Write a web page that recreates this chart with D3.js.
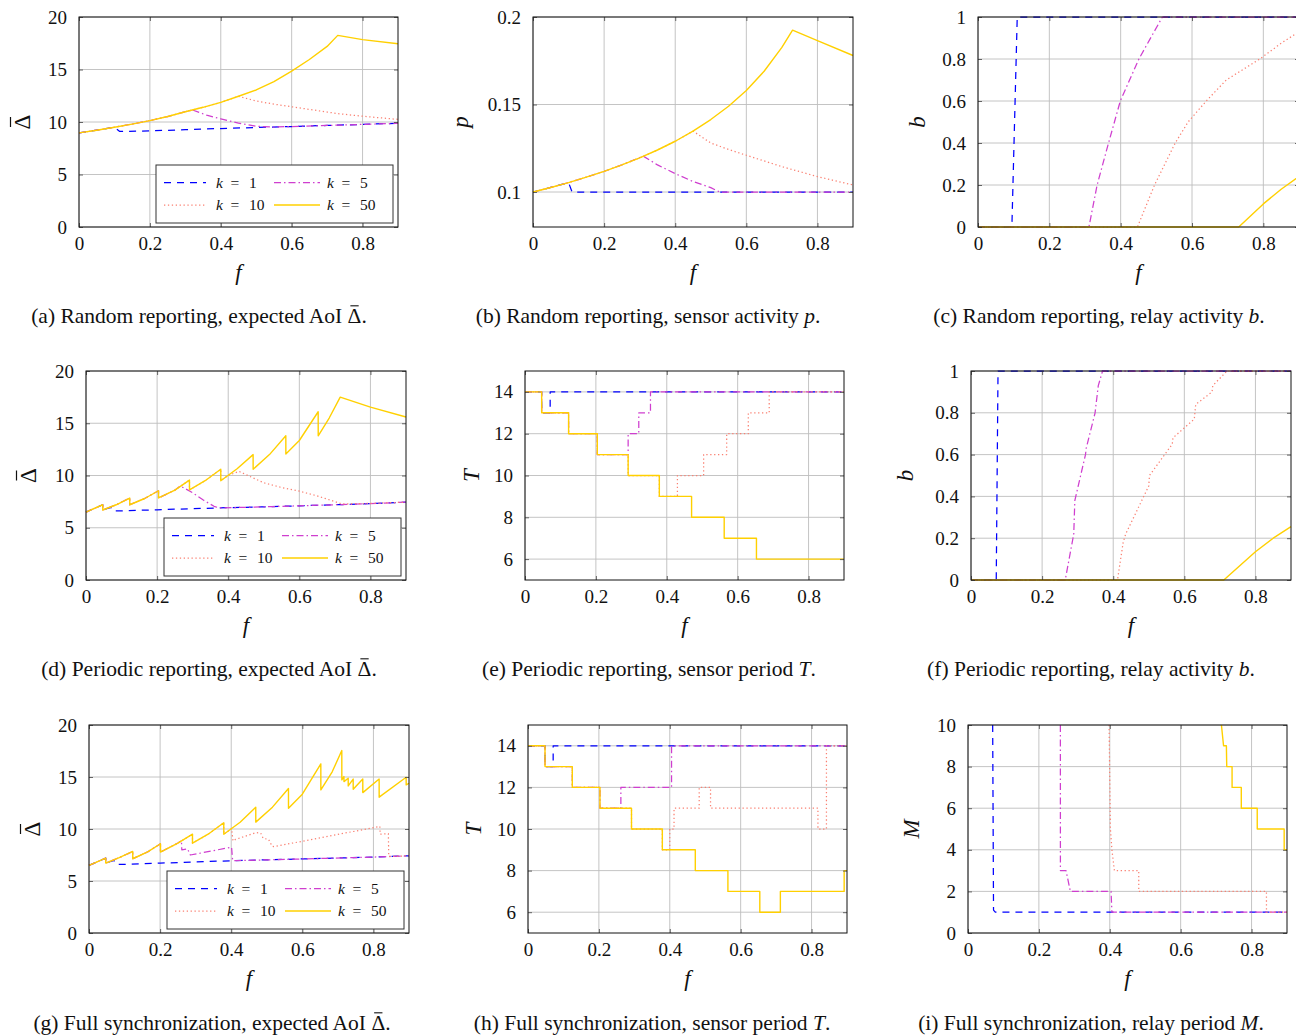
<!DOCTYPE html>
<html><head><meta charset="utf-8">
<script src="https://cdn.jsdelivr.net/npm/d3@7"></script>
<style>body{margin:0;background:#fff}svg{display:block}</style>
</head><body>
<svg id="c" width="1296" height="1036"></svg>
<script>
// ---------- tick values / labels ----------
const xTickVals = [0, 0.2, 0.4, 0.6, 0.8];
const xTickLabels = ["0", "0.2", "0.4", "0.6", "0.8"];
const yTicksAoI = [0, 5, 10, 15, 20];
const yTicksP = [0.1, 0.15, 0.2];
const yTicksB = [0, 0.2, 0.4, 0.6, 0.8, 1];
const yTicksT = [6, 8, 10, 12, 14];
const yTicksM = [0, 2, 4, 6, 8, 10];
const kLabels = ["1", "5", "10", "50"];

// ---------- (a) random reporting, AoI ----------
const fA1 = [0,0.05,0.1,0.115,0.2,0.3,0.4,0.5,0.6,0.7,0.8,0.9];
const vA1 = [8.96,9.22,9.5,9.1,9.15,9.27,9.38,9.48,9.57,9.67,9.77,9.88];
const fA5 = [0,0.05,0.1,0.15,0.2,0.25,0.3,0.32,0.36,0.4,0.45,0.5,0.55,0.6,0.7,0.8,0.9];
const vA5 = [8.96,9.22,9.5,9.8,10.13,10.52,10.98,11.15,10.65,10.3,9.9,9.6,9.52,9.57,9.67,9.77,9.88];
const fA10 = [0,0.05,0.1,0.15,0.2,0.25,0.3,0.35,0.4,0.45,0.5,0.55,0.6,0.65,0.7,0.73,0.8,0.9];
const vA10 = [8.96,9.22,9.5,9.8,10.13,10.52,10.98,11.4,11.87,12.45,12.0,11.7,11.45,11.2,10.95,10.8,10.55,10.25];
const fA50 = [0,0.05,0.1,0.15,0.2,0.25,0.3,0.35,0.4,0.45,0.5,0.55,0.6,0.65,0.7,0.73,0.8,0.9];
const vA50 = [8.96,9.22,9.5,9.8,10.13,10.52,10.98,11.4,11.87,12.45,13.05,13.85,14.85,15.95,17.2,18.25,17.85,17.45];

// ---------- (b) random reporting, p ----------
const fB1 = [0,0.05,0.1,0.11,0.9];
const vB1 = [0.1,0.1026,0.1054,0.1,0.1];
const fB5 = [0,0.05,0.1,0.15,0.2,0.25,0.31,0.35,0.4,0.45,0.5,0.525,0.9];
const vB5 = [0.1,0.1026,0.1054,0.1085,0.1118,0.1155,0.1205,0.1155,0.1105,0.106,0.1025,0.1,0.1];
const fB10 = [0,0.05,0.1,0.15,0.2,0.25,0.3,0.35,0.4,0.45,0.5,0.55,0.6,0.7,0.8,0.9];
const vB10 = [0.1,0.1026,0.1054,0.1085,0.1118,0.1155,0.1195,0.124,0.129,0.1348,0.128,0.1243,0.121,0.1145,0.1088,0.104];
const fB50 = [0,0.05,0.1,0.15,0.2,0.25,0.3,0.35,0.4,0.45,0.5,0.55,0.6,0.65,0.7,0.73,0.8,0.9];
const vB50 = [0.1,0.1026,0.1054,0.1085,0.1118,0.1155,0.1195,0.124,0.129,0.1348,0.1414,0.149,0.158,0.169,0.1826,0.1925,0.1865,0.178];

// ---------- (c) random reporting, b ----------
const fC1 = [0,0.095,0.11,0.9];
const vC1 = [0,0,1,1];
const fC5 = [0,0.311,0.334,0.366,0.399,0.451,0.517,0.9];
const vC5 = [0,0,0.2,0.4,0.6,0.8,1,1];
const fC10 = [0,0.447,0.495,0.553,0.589,0.64,0.696,0.79,0.85,0.9];
const vC10 = [0,0,0.2,0.4,0.5,0.6,0.7,0.8,0.875,0.93];
const fC50 = [0,0.731,0.8,0.85,0.9];
const vC50 = [0,0,0.11,0.18,0.24];

// ---------- (d) periodic reporting, AoI ----------
const fD1 = [0,0.047,0.0471,0.07,0.076,0.2,0.375,0.5,0.6,0.7,0.8,0.9];
const vD1 = [6.5,7.2,6.7,6.95,6.6,6.72,6.9,7.0,7.1,7.2,7.3,7.45];
const fD5 = [0,0.047,0.0471,0.085,0.123,0.1231,0.165,0.204,0.2041,0.25,0.265,0.3,0.33,0.36,0.375,0.5,0.6,0.7,0.8,0.9];
const vD5 = [6.5,7.2,6.7,7.2,7.84,7.2,7.8,8.54,7.85,8.6,9.0,8.35,7.65,7.05,6.9,7.0,7.1,7.2,7.3,7.45];
const fD10 = [0,0.047,0.0471,0.085,0.123,0.1231,0.165,0.204,0.2041,0.25,0.291,0.2911,0.335,0.379,0.3791,0.4,0.43,0.5,0.55,0.6,0.65,0.7,0.72,0.8,0.9];
const vD10 = [6.5,7.2,6.7,7.2,7.84,7.2,7.8,8.54,7.85,8.6,9.56,8.63,9.5,10.6,9.5,10.0,10.4,9.3,8.85,8.5,8.05,7.5,7.28,7.33,7.45];
const fD50 = [0,0.047,0.0471,0.085,0.123,0.1231,0.165,0.204,0.2041,0.25,0.291,0.2911,0.335,0.379,0.3791,0.425,0.47,0.4701,0.516,0.562,0.5621,0.6,0.653,0.6531,0.684,0.715,0.8,0.9];
const vD50 = [6.5,7.2,6.7,7.2,7.84,7.2,7.8,8.54,7.85,8.6,9.56,8.63,9.5,10.6,9.5,10.65,12.0,10.6,12.0,13.8,12.06,13.35,16.1,13.8,15.5,17.5,16.55,15.6];

// ---------- (e) periodic reporting, T (steps) ----------
const fE1 = [0,0.047,0.071,0.9];
const vE1 = [14,13,14,14];
const fE5 = [0,0.047,0.123,0.204,0.291,0.321,0.354,0.9];
const vE5 = [14,13,12,11,12,13,14,14];
const fE10 = [0,0.047,0.123,0.204,0.291,0.379,0.43,0.504,0.569,0.63,0.689,0.9];
const vE10 = [14,13,12,11,10,9,10,11,12,13,14,14];
const fE50 = [0,0.047,0.123,0.204,0.291,0.379,0.47,0.562,0.653,0.9];
const vE50 = [14,13,12,11,10,9,8,7,6,6];

// ---------- (f) periodic reporting, b ----------
const fF1 = [0,0.071,0.076,0.9];
const vF1 = [0,0,1,1];
const fF5 = [0,0.265,0.289,0.292,0.322,0.324,0.349,0.351,0.358,0.37,0.9];
const vF5 = [0,0,0.22,0.38,0.6,0.63,0.8,0.83,0.93,1,1];
const fF10 = [0,0.412,0.428,0.435,0.5,0.502,0.566,0.568,0.628,0.632,0.678,0.68,0.72,0.9];
const vF10 = [0,0,0.18,0.22,0.45,0.5,0.65,0.68,0.77,0.84,0.9,0.93,1,1];
const fF50 = [0,0.711,0.8,0.85,0.9];
const vF50 = [0,0,0.135,0.2,0.255];

// ---------- (g) full synchronization, AoI ----------
const fG1 = [0,0.047,0.0471,0.07,0.077,0.2,0.4,0.6,0.8,0.9];
const vG1 = [6.5,7.2,6.72,6.98,6.58,6.72,6.95,7.12,7.3,7.42];
const fG5 = [0,0.047,0.0471,0.085,0.123,0.1231,0.165,0.201,0.2011,0.25,0.26,0.261,0.277,0.285,0.401,0.404,0.6,0.8,0.9];
const vG5 = [6.5,7.2,6.72,7.25,7.84,7.14,7.8,8.58,7.78,8.65,8.9,8.0,8.1,7.5,8.25,6.95,7.12,7.3,7.42];
const fG10 = [0,0.047,0.0471,0.085,0.123,0.1231,0.165,0.201,0.2011,0.25,0.291,0.2911,0.335,0.379,0.3791,0.401,0.4015,0.405,0.412,0.47,0.483,0.49,0.505,0.515,0.52,0.818,0.819,0.842,0.843,0.9];
const vG10 = [6.5,7.2,6.72,7.25,7.84,7.14,7.8,8.58,7.78,8.65,9.5,8.64,9.5,10.6,9.5,10.05,9.9,8.85,9.0,9.65,9.6,9.1,9.0,8.35,8.3,10.25,9.5,9.55,7.36,7.42];
const fG50 = [0,0.047,0.0471,0.085,0.123,0.1231,0.165,0.201,0.2011,0.25,0.291,0.2911,0.335,0.379,0.3791,0.425,0.469,0.4691,0.516,0.561,0.5611,0.6,0.652,0.6521,0.684,0.711,0.7111,0.717,0.7171,0.729,0.7291,0.743,0.7431,0.77,0.7701,0.816,0.8161,0.892,0.8921,0.9];
const vG50 = [6.5,7.2,6.72,7.25,7.84,7.14,7.8,8.58,7.78,8.65,9.5,8.64,9.5,10.6,9.5,10.65,12.1,10.66,12.1,13.9,12.0,13.35,16.26,13.76,15.5,17.54,14.72,15.04,14.56,14.88,14.14,14.8,13.82,14.8,13.5,14.8,13.06,14.98,14.24,14.4];

// ---------- (h) full synchronization, T (steps) ----------
const fH1 = [0,0.048,0.071,0.9];
const vH1 = [14,13,14,14];
const fH5 = [0,0.048,0.125,0.203,0.262,0.405,0.9];
const vH5 = [14,13,12,11,12,14,14];
const fH10 = [0,0.048,0.125,0.203,0.292,0.379,0.4,0.412,0.483,0.515,0.818,0.842,0.9];
const vH10 = [14,13,12,11,10,9,10,11,12,11,10,14,14];
const fH50 = [0,0.048,0.125,0.203,0.292,0.379,0.472,0.564,0.654,0.712,0.892,0.9];
const vH50 = [14,13,12,11,10,9,8,7,6,7,8,8];

// ---------- (i) full synchronization, M ----------
const fI1 = [0.0696,0.072,0.077,0.9];
const vI1 = [10,1.1,1,1];
const fI5 = [0.2606,0.2607,0.2766,0.2888,0.4036,0.406,0.9];
const vI5 = [10,3,3,2,2,1,1];
const fI10 = [0.398,0.4017,0.406,0.413,0.4817,0.4818,0.842,0.8421,0.9];
const vI10 = [10,5.04,4,3,3,2,2,1,1];
const fI50 = [0.715,0.721,0.729,0.73,0.745,0.7451,0.771,0.7711,0.816,0.8161,0.892,0.8921,0.9];
const vI50 = [10,9,9,8,8,7,7,6,6,5,5,4,4];

// ---------- styles ----------
const seriesStyle = [
  {color:"#0000ff", dash:"7,6"},
  {color:"#cf3fcf", dash:"7,3,1.5,3"},
  {color:"#fa8072", dash:"1.3,2.6"},
  {color:"#ffd000", dash:null}
];
const SERIF = "'Liberation Serif', 'Times New Roman', serif";

const svg = d3.select("#c");
const defs = svg.append("defs");

function mk(fs, vs){ return fs.map((f,i)=>[f, vs[i]]); }

const panels = [
  {id:"a", box:[79,17,398,227], yDom:[0,20], yTicks:yTicksAoI, ylab:"Δ", bar:true, ylabX:22, legend:true,
   series:[mk(fA1,vA1),mk(fA5,vA5),mk(fA10,vA10),mk(fA50,vA50)],
   cap:[["(a) Random reporting, expected AoI ",false],["Δ",false,true],[".",false]], capX:199, capY:323},
  {id:"b", box:[533,17,853,227], yDom:[0.08,0.2], yTicks:yTicksP, ylab:"p", ylabItalic:true, ylabX:460,
   series:[mk(fB1,vB1),mk(fB5,vB5),mk(fB10,vB10),mk(fB50,vB50)],
   cap:[["(b) Random reporting, sensor activity ",false],["p",true],[".",false]], capX:648, capY:323},
  {id:"c", box:[978,17,1299,227], yDom:[0,1], yTicks:yTicksB, ylab:"b", ylabItalic:true, ylabX:917,
   series:[mk(fC1,vC1),mk(fC5,vC5),mk(fC10,vC10),mk(fC50,vC50)],
   cap:[["(c) Random reporting, relay activity ",false],["b",true],[".",false]], capX:1099, capY:323},
  {id:"d", box:[86,371,406,580], yDom:[0,20], yTicks:yTicksAoI, ylab:"Δ", bar:true, ylabX:28, legend:true,
   series:[mk(fD1,vD1),mk(fD5,vD5),mk(fD10,vD10),mk(fD50,vD50)],
   cap:[["(d) Periodic reporting, expected AoI ",false],["Δ",false,true],[".",false]], capX:209, capY:676},
  {id:"e", box:[525,371,844,580], yDom:[5,15], yTicks:yTicksT, ylab:"T", ylabItalic:true, ylabX:471, step:true,
   series:[mk(fE1,vE1),mk(fE5,vE5),mk(fE10,vE10),mk(fE50,vE50)],
   cap:[["(e) Periodic reporting, sensor period ",false],["T",true],[".",false]], capX:649, capY:676},
  {id:"f", box:[971,371,1291,580], yDom:[0,1], yTicks:yTicksB, ylab:"b", ylabItalic:true, ylabX:905,
   series:[mk(fF1,vF1),mk(fF5,vF5),mk(fF10,vF10),mk(fF50,vF50)],
   cap:[["(f) Periodic reporting, relay activity ",false],["b",true],[".",false]], capX:1091, capY:676},
  {id:"g", box:[89,725,409,933], yDom:[0,20], yTicks:yTicksAoI, ylab:"Δ", bar:true, ylabX:32, legend:true,
   series:[mk(fG1,vG1),mk(fG5,vG5),mk(fG10,vG10),mk(fG50,vG50)],
   cap:[["(g) Full synchronization, expected AoI ",false],["Δ",false,true],[".",false]], capX:212, capY:1030},
  {id:"h", box:[528,725,847,933], yDom:[5,15], yTicks:yTicksT, ylab:"T", ylabItalic:true, ylabX:473, step:true,
   series:[mk(fH1,vH1),mk(fH5,vH5),mk(fH10,vH10),mk(fH50,vH50)],
   cap:[["(h) Full synchronization, sensor period ",false],["T",true],[".",false]], capX:652, capY:1030},
  {id:"i", box:[968,725,1287,933], yDom:[0,10], yTicks:yTicksM, ylab:"M", ylabItalic:true, ylabX:911,
   series:[mk(fI1,vI1),mk(fI5,vI5),mk(fI10,vI10),mk(fI50,vI50)],
   cap:[["(i) Full synchronization, relay period ",false],["M",true],[".",false]], capX:1091, capY:1030}
];

function drawPanel(p){
  const [L,T,R,B] = p.box;
  const x = d3.scaleLinear().domain([0,0.9]).range([L,R]);
  const y = d3.scaleLinear().domain(p.yDom).range([B,T]);
  const g = svg.append("g");

  // grid
  const gg = g.append("g").attr("stroke","#bdbdbd").attr("stroke-width",0.9);
  xTickVals.forEach(t=>{ gg.append("line").attr("x1",x(t)).attr("x2",x(t)).attr("y1",T).attr("y2",B); });
  p.yTicks.forEach(t=>{ gg.append("line").attr("x1",L).attr("x2",R).attr("y1",y(t)).attr("y2",y(t)); });

  // clip
  defs.append("clipPath").attr("id","clip"+p.id).append("rect")
    .attr("x",L-1).attr("y",T-1).attr("width",R-L+2).attr("height",B-T+2);

  // series
  const line = d3.line().x(d=>x(d[0])).y(d=>y(d[1]))
    .curve(p.step ? d3.curveStepAfter : d3.curveLinear);
  const sg = g.append("g").attr("clip-path","url(#clip"+p.id+")");
  p.series.forEach((data,i)=>{
    const st = seriesStyle[i];
    sg.append("path").attr("d",line(data)).attr("fill","none")
      .attr("stroke",st.color).attr("stroke-width", i===3?1.4:1.25)
      .attr("stroke-dasharray",st.dash).attr("stroke-linejoin","round");
  });

  // axes (inward ticks)
  const fmtX = (d,i)=>xTickLabels[i];
  const ax = d3.axisBottom(x).tickValues(xTickVals).tickFormat(fmtX).tickSize(-4).tickPadding(9.5);
  const axT = d3.axisTop(x).tickValues(xTickVals).tickFormat("").tickSize(-4);
  const ay = d3.axisLeft(y).tickValues(p.yTicks).tickFormat(d=>String(d)).tickSize(-4).tickPadding(12);
  const ayR = d3.axisRight(y).tickValues(p.yTicks).tickFormat("").tickSize(-4);
  [[ax,`translate(0,${B})`],[axT,`translate(0,${T})`],[ay,`translate(${L},0)`],[ayR,`translate(${R},0)`]].forEach(([a,tr])=>{
    const ag = g.append("g").attr("transform",tr).call(a).attr("font-family",null).attr("font-size",null);
    ag.select(".domain").remove();
    ag.selectAll(".tick line").attr("stroke","#555").attr("stroke-width",0.9);
    ag.selectAll(".tick text").style("font-family",SERIF).style("font-size","19px").attr("fill","#111");
  });

  // frame
  g.append("rect").attr("x",L).attr("y",T).attr("width",R-L).attr("height",B-T)
    .attr("fill","none").attr("stroke","#111").attr("stroke-width",1);

  // axis labels
  g.append("text").attr("x",(L+R)/2).attr("y",B+53).attr("text-anchor","middle")
    .style("font-family",SERIF).style("font-style","italic").style("font-size","23px").attr("fill","#111").text("f");
  const yl = g.append("g").attr("transform",`translate(${p.ylabX},${(T+B)/2}) rotate(-90)`);
  yl.append("text").attr("x",0).attr("y",p.bar?7.5:7.5).attr("text-anchor","middle")
    .style("font-family",SERIF).style("font-style",p.ylabItalic?"italic":"normal")
    .style("font-size","23px").attr("fill","#111").text(p.ylab);
  if(p.bar){
    yl.append("line").attr("x1",-5).attr("x2",5).attr("y1",-11.5).attr("y2",-11.5)
      .attr("stroke","#111").attr("stroke-width",1.2);
  }

  // legend
  if(p.legend){
    const lx = R-242, ly = B-62;
    const lg = g.append("g");
    lg.append("rect").attr("x",lx).attr("y",ly).attr("width",237).attr("height",58)
      .attr("fill","#fff").attr("stroke","#333").attr("stroke-width",1);
    const pos = [[0,0],[1,0],[0,1],[1,1]];
    pos.forEach(([c,r],i)=>{
      const st = seriesStyle[i];
      const sx = lx + (c===0?8:118), ry = ly + (r===0?17.5:40);
      lg.append("line").attr("x1",sx).attr("x2",sx+(c===0?42:46)).attr("y1",ry).attr("y2",ry)
        .attr("stroke",st.color).attr("stroke-width",i===3?1.4:1.25).attr("stroke-dasharray",st.dash);
      const tx = lx + (c===0?60:171);
      const t = lg.append("text").attr("y",ry+5).style("font-family",SERIF).style("font-size","15.5px").attr("fill","#111");
      t.append("tspan").attr("x",tx).style("font-style","italic").text("k");
      t.append("tspan").attr("x",tx+14.5).text("=");
      t.append("tspan").attr("x",tx+33).text(kLabels[i]);
    });
  }

  // caption
  const FS = 21.5;
  const ct = g.append("text").attr("x",p.capX).attr("y",p.capY).attr("text-anchor","middle")
    .style("font-family",SERIF).style("font-size",FS+"px").attr("fill","#111");
  let idx = 0, barIdx = -1;
  p.cap.forEach(([s,it,bar])=>{
    ct.append("tspan").style("font-style",it?"italic":"normal").text(s);
    if(bar) barIdx = idx;
    idx += s.length;
  });
  if(barIdx>=0){
    const n = ct.node();
    const s0 = n.getStartPositionOfChar(barIdx).x, s1 = n.getEndPositionOfChar(barIdx).x;
    const w = s1 - s0;
    g.append("line").attr("x1",s0+w*0.2).attr("x2",s1-w*0.2)
      .attr("y1",p.capY-FS*0.66-3).attr("y2",p.capY-FS*0.66-3)
      .attr("stroke","#111").attr("stroke-width",1.1);
  }
}

panels.forEach(drawPanel);
</script>
</body></html>
